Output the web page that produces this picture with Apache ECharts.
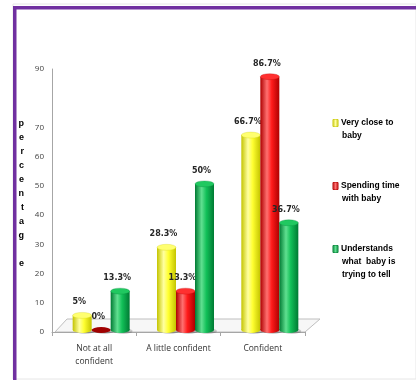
<!DOCTYPE html>
<html><head><meta charset="utf-8">
<script src="https://cdn.jsdelivr.net/npm/echarts@6/dist/echarts.min.js"></script>
<style>html,body{margin:0;padding:0;background:#fff}#c{width:416px;height:380px}</style>
</head><body><div id="c"></div>
<script>
const categories = ['Not at all\nconfident', 'A little confident', 'Confident'];
const seriesNames = ['Very close to baby', 'Spending time with baby', 'Understands what  baby is trying to tell'];
const legendLines = [['Very close to', 'baby'], ['Spending time', 'with baby'], ['Understands', 'what  baby is', 'trying to tell']];
const veryClose = [5, 28.3, 66.7];
const spendingTime = [0, 13.3, 86.7];
const understands = [13.3, 50, 36.7];
const yMin = 0, yMax = 90, yStep = 10;
const hiddenTick = 80;
const yTitle = ['p','e','r','c','e','n','t','a','g',' ','e'];

const GL = 52, GR = 305, GT = 69, GB = 332, W = 416, H = 380;
const BW = 19;
const palettes = [
  {edge:'#c4c400', mid:'#ffff30', light:'#ffffa0', top:'#ffff70', base:'#ffff00'},
  {edge:'#ae0000', mid:'#ff1a1a', light:'#ff7070', top:'#ff3030', base:'#ff0000', zero:'#a00000'},
  {edge:'#007a33', mid:'#12c058', light:'#60e090', top:'#20c860', base:'#00b050'}
];

function makeRender(sIdx) {
  const p = palettes[sIdx];
  return function (params, api) {
    const ci = api.value(0), v = api.value(1);
    const topPt = api.coord([ci, v]);
    const basePt = api.coord([ci, 0]);
    const cx = topPt[0] + 7 + (sIdx - 1) * BW;
    const by = basePt[1] - 2;
    const ty = topPt[1] - 2;
    const r = BW / 2, ry = 3;
    const grad = new echarts.graphic.LinearGradient(0, 0, 1, 0, [
      {offset: 0, color: p.edge}, {offset: 0.35, color: p.light},
      {offset: 0.6, color: p.mid}, {offset: 1, color: p.edge}
    ]);
    const children = [];
    children.push({type:'circle', shape:{cx:0, cy:0, r:r}, x: cx + 3, y: by + 1, scaleY: ry / r,
      style:{fill:'rgba(0,0,0,0.18)'}});
    if (v > 0) {
      children.push({type:'circle', shape:{cx:0, cy:0, r:r}, x: cx, y: by, scaleY: ry / r, style:{fill: grad}});
      children.push({type:'rect', shape:{x: cx - r, y: ty, width: BW, height: by - ty}, style:{fill: grad}});
      children.push({type:'circle', shape:{cx:0, cy:0, r:r}, x: cx, y: ty, scaleY: ry / r,
        style:{fill: p.top, stroke: p.edge, lineWidth: 0.4}});
    } else {
      children.push({type:'circle', shape:{cx:0, cy:0, r:r}, x: cx, y: by, scaleY: ry / r, style:{fill: p.zero}});
    }
    children.push({type:'text', x: cx - 3, y: ty - 13, style:{text: v + '%', fontFamily:'DejaVu Sans',
      fontWeight:'bold', fontSize: 8, fill:'#262626', align:'center', verticalAlign:'middle'}});
    return {type:'group', children};
  };
}

const dataSets = [veryClose, spendingTime, understands];
const series = dataSets.map((arr, i) => ({
  type: 'custom', name: seriesNames[i],
  itemStyle: {color: palettes[i].base},
  renderItem: makeRender(i),
  data: arr.map((v, ci) => [ci, v]),
  z: 3
}));

const rich = {
  g: {width: 3},
  s: {width: 9},
  t: {fontFamily: 'Liberation Sans', fontWeight: 'bold', fontSize: 8.5, lineHeight: 13, color: '#000'}
};
palettes.forEach((p, i) => {
  rich['i' + i] = {width: 5, height: 7, lineHeight: 13,
    backgroundColor: new echarts.graphic.LinearGradient(0, 0, 1, 0, [
      {offset: 0, color: p.edge}, {offset: 0.5, color: p.light}, {offset: 1, color: p.edge}]),
    borderColor: p.edge, borderWidth: 0.5};
});

const chart = echarts.init(document.getElementById('c'));
chart.setOption({
  animation: false,
  backgroundColor: '#fff',
  grid: {left: GL, right: W - GR, top: GT, bottom: H - GB},
  xAxis: {
    type: 'category', data: categories,
    axisLine: {lineStyle: {color: '#a6a6a6'}},
    axisTick: {show: true, length: 4, lineStyle: {color: '#a6a6a6'}},
    axisLabel: {fontFamily: 'Open Sans', fontSize: 8.5, color: '#333', lineHeight: 13, margin: 10}
  },
  yAxis: {
    type: 'value', min: yMin, max: yMax, interval: yStep,
    name: yTitle.join('\n') + '\n ', nameLocation: 'middle', nameRotate: 0, nameGap: 28,
    nameTextStyle: {fontFamily: 'Liberation Sans', fontWeight: 'bold', fontSize: 9, lineHeight: 14,
      color: '#000'},
    axisLine: {show: true, lineStyle: {color: '#a6a6a6'}},
    axisTick: {show: false},
    splitLine: {show: false},
    axisLabel: {fontFamily: 'Open Sans', fontSize: 8, color: '#404040', margin: 8,
      formatter: v => (v === hiddenTick ? '' : String(v))}
  },
  legend: {
    data: seriesNames, left: 328, top: 117, orient: 'vertical', padding: 0,
    icon: 'none', itemWidth: 0, itemHeight: 8, itemGap: 38,
    formatter: name => {
      const i = seriesNames.indexOf(name);
      const lines = legendLines[i];
      return lines.map((l, k) => (k === 0 ? '{i' + i + '|}{g|}' : '{s|}') + '{t|' + l + '}').join('\n');
    },
    textStyle: {rich}
  },
  graphic: [
    {type: 'rect', z: 0, shape: {x: 13, y: 4, width: W - 13, height: H - 5}, style: {fill: 'none', stroke: '#e6e6e6', lineWidth: 1}},
    {type: 'polygon', z: 0, shape: {points: [[GL + 3, GB], [GR, GB], [GR + 15, GB - 13], [GL + 15, GB - 13]]},
      style: {fill: '#f7f7f7', stroke: '#bfbfbf', lineWidth: 1}},
    {type: 'rect', z: 10, shape: {x: 13, y: 6, width: 3.5, height: H - 6}, style: {fill: '#7030a0'}},
    {type: 'rect', z: 10, shape: {x: 13, y: 6, width: W - 13, height: 3.5}, style: {fill: '#7030a0'}}
  ],
  series
});
</script></body></html>
